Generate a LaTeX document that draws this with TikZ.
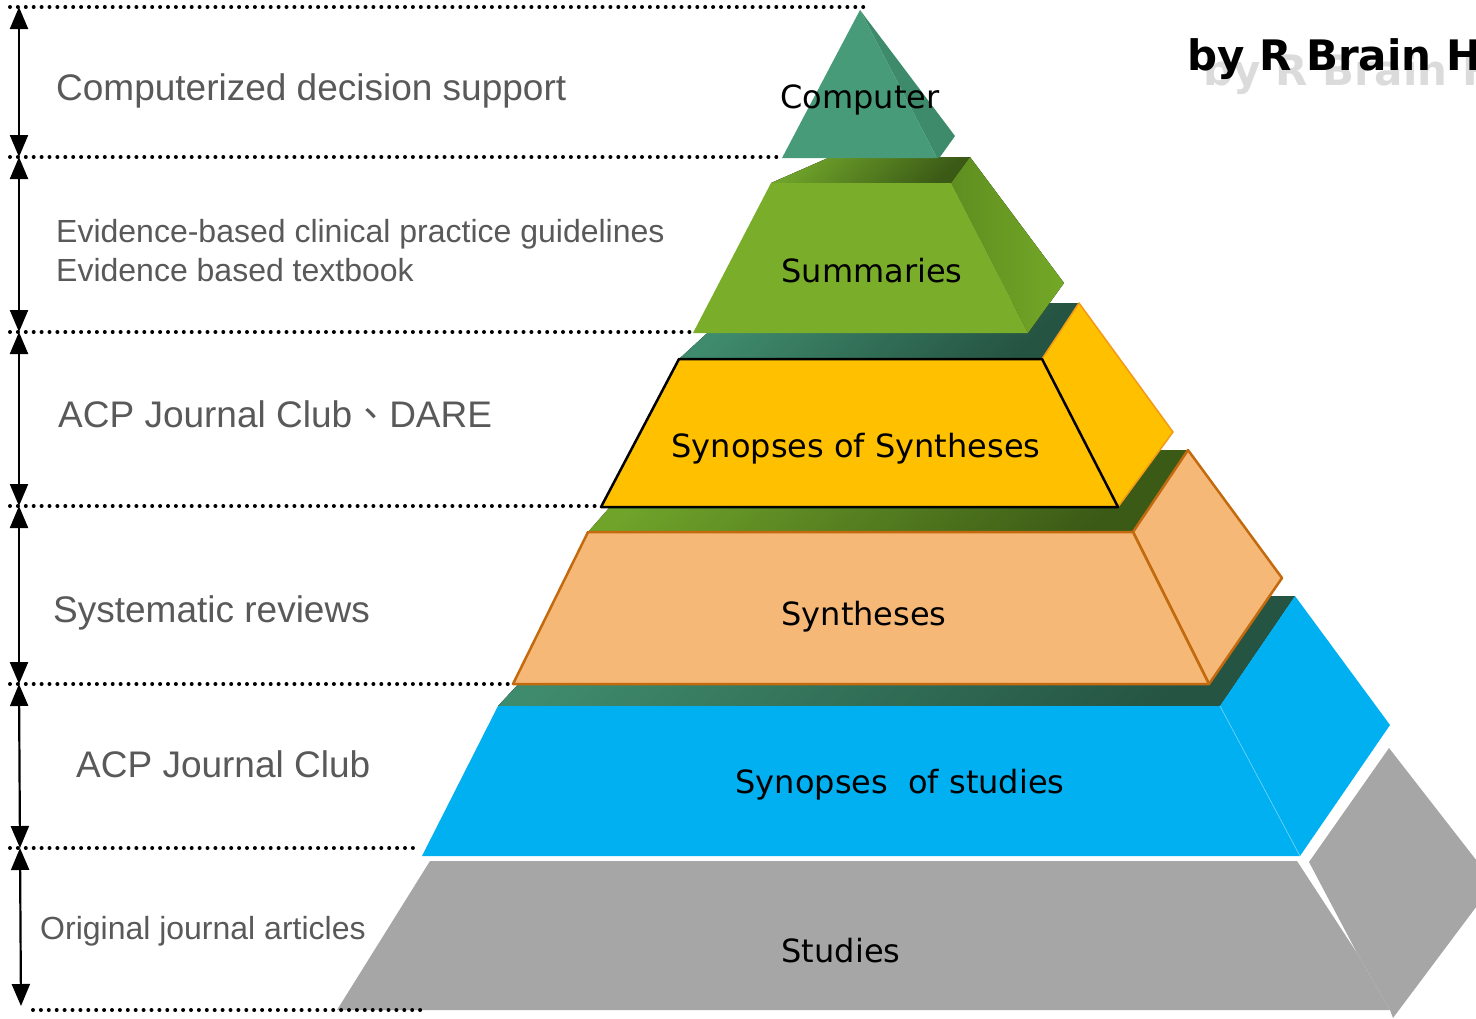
\documentclass[tikz,border=0pt]{standalone}
\usepackage{fontspec}
\setmainfont{Liberation Sans}
\newfontfamily\tierfont{DejaVu Sans}
\newfontfamily\cjkfont{Noto Sans CJK TC}
\usetikzlibrary{arrows.meta}
\definecolor{sidetext}{HTML}{595959}
\definecolor{tealfront}{HTML}{479B79}
\definecolor{tealside}{HTML}{3E8B6B}
\definecolor{tealA}{HTML}{3F8B6D}
\definecolor{tealB}{HTML}{255442}
\definecolor{greenfront}{HTML}{7AAD29}
\definecolor{greenA}{HTML}{6FA32A}
\definecolor{greenB}{HTML}{3B5A16}
\definecolor{greensideA}{HTML}{5E8E20}
\definecolor{greensideB}{HTML}{74A827}
\definecolor{gold}{HTML}{FFC000}
\definecolor{goldedge}{HTML}{F29A17}
\definecolor{peach}{HTML}{F5B877}
\definecolor{peachedge}{HTML}{C46A0E}
\definecolor{skyblue}{HTML}{00B0F0}
\definecolor{stone}{HTML}{A6A6A6}
\tikzset{
  guide/.style={line width=4pt,dash pattern=on 0pt off 7.9pt,line cap=round},
  levelarrow/.style={arrows={Triangle[length=22pt,width=18pt]-Triangle[length=22pt,width=18pt]},line width=2.2pt},
  sidebig/.style={anchor=base west,inner sep=0pt,text=sidetext,font=\fontsize{37}{44}\selectfont},
  sidesmall/.style={anchor=base west,inner sep=0pt,text=sidetext,align=left,font=\fontsize{32}{39}\selectfont},
  tierlabel/.style={anchor=base,inner sep=0pt,font=\tierfont\fontsize{32}{38}\selectfont},
  brandtext/.style={anchor=base west,inner sep=0pt,font=\tierfont\bfseries\fontsize{42}{50}\selectfont},
  tealtop/.style={top color=tealA,bottom color=tealB,shading angle=45},
  greentop/.style={top color=greenA,bottom color=greenB,shading angle=45}}

\begin{document}
\begin{tikzpicture}[x=1pt,y=-1pt]
    \useasboundingbox (0,0) rectangle (1476,1018);
    \clip (0,0) rectangle (1476,1018);
    % studies
    \fill[stone] (337,1010) -- (430,861) -- (1297,861) -- (1357,953) -- (1390,1010) -- cycle;
    \fill[stone] (1309,862) -- (1389,748) -- (1494,883) -- (1393,1018) -- (1390,1010) -- (1357,953) -- cycle;
    % synopses of studies
    \fill[tealtop] (498,706) -- (1220,706) -- (1295,596) -- (600,596) -- cycle;
    \fill[skyblue] (422,856) -- (1300,856) -- (1220,706) -- (498,706) -- cycle;
    \fill[skyblue] (1220,706) -- (1295,596) -- (1390,725) -- (1300,856) -- cycle;
    \draw[skyblue!55!white,line width=0.6pt] (1220,706) -- (1300,856);
    % syntheses
    \fill[greentop] (588,532) -- (1133,532) -- (1188,450) -- (660,450) -- cycle;
    \filldraw[fill=peach,draw=peachedge,line width=2.5pt,line join=round] (1133,532) -- (1188,450) -- (1282,578) -- (1209,684) -- cycle;
    \filldraw[fill=peach,draw=peachedge,line width=2.5pt,line join=round] (513,684) -- (1209,684) -- (1133,532) -- (588,532) -- cycle;
    % synopses of syntheses
    \fill[tealtop] (679,359) -- (1042,359) -- (1079,303) -- (740,303) -- cycle;
    \filldraw[fill=gold,draw=goldedge,line width=1.5pt,line join=round] (1042,359) -- (1079,303) -- (1173,432) -- (1118,507) -- cycle;
    \filldraw[fill=gold,draw=black,line width=2.5pt,line join=round] (601,507) -- (1118,507) -- (1042,359) -- (679,359) -- cycle;
    % summaries
    \fill[greentop] (771,183) -- (951,183) -- (970,157) -- (828,158) -- cycle;
    \fill[left color=greensideA,right color=greensideB] (951,183) -- (970,157) -- (1064,283) -- (1028,333) -- cycle;
    \fill[greenfront] (693,333) -- (1028,333) -- (951,183) -- (771,183) -- cycle;
    % computer
    \fill[tealside] (860,10) -- (955,136) -- (940,157) -- (937,158) -- cycle;
    \fill[tealfront] (860,10) -- (782,158) -- (937,158) -- cycle;

    \node[tierlabel] (computer) at (860,108) {Computer};
    \node[tierlabel] (summaries) at (872,282) {Summaries};
    \node[tierlabel] (synsyn) at (856,457) {Synopses of Syntheses};
    \node[tierlabel] (syntheses) at (864,625) {Syntheses};
    \node[tierlabel] (synstud) at (900,793) {Synopses\ \ of studies};
    \node[tierlabel] (studies) at (841,962) {Studies};

    % levels
    \coordinate (lv0) at (19,7);
    \coordinate (lv1) at (19,157);
    \coordinate (lv2) at (19,332);
    \coordinate (lv3) at (19,506);
    \coordinate (lv4) at (19,684);
    \coordinate (lv5) at (20,848);
    \coordinate (lv6) at (21,1006);
    \draw[guide] (10,7) -- (865,7);
    \draw[guide] (10,157) -- (782,157);
    \draw[guide] (10,332) -- (693,332);
    \draw[guide] (10,506) -- (601,506);
    \draw[guide] (10,684) -- (513,684);
    \draw[guide] (10,848) -- (420,848);
    \draw[guide] (33,1010) -- (425,1010);
    \draw[levelarrow] (lv0) -- (lv1);
    \draw[levelarrow] (lv1) -- (lv2);
    \draw[levelarrow] (lv2) -- (lv3);
    \draw[levelarrow] (lv3) -- (lv4);
    \draw[levelarrow] (lv4) -- (lv5);
    \draw[levelarrow] (lv5) -- (lv6);

    \node[sidebig] (cds) at (56,100) {Computerized decision support};
    \node[sidesmall] (ebg) at (56,281) {Evidence-based clinical practice guidelines\\Evidence based textbook};
    \node[sidebig] (acpdare) at (58,427) {ACP Journal Club{\cjkfont 、}DARE};
    \node[sidebig] (sysrev) at (53,622) {Systematic reviews};
    \node[sidebig] (acp) at (76,777) {ACP Journal Club};
    \node[sidesmall] (orig) at (40,939) {Original journal articles};

    \node[brandtext,text=black!14] (brandshadow) at (1203,85) {by R Brain H};
    \node[brandtext] (brand) at (1187,70) {by R Brain H};
  \end{tikzpicture}
\end{document}
